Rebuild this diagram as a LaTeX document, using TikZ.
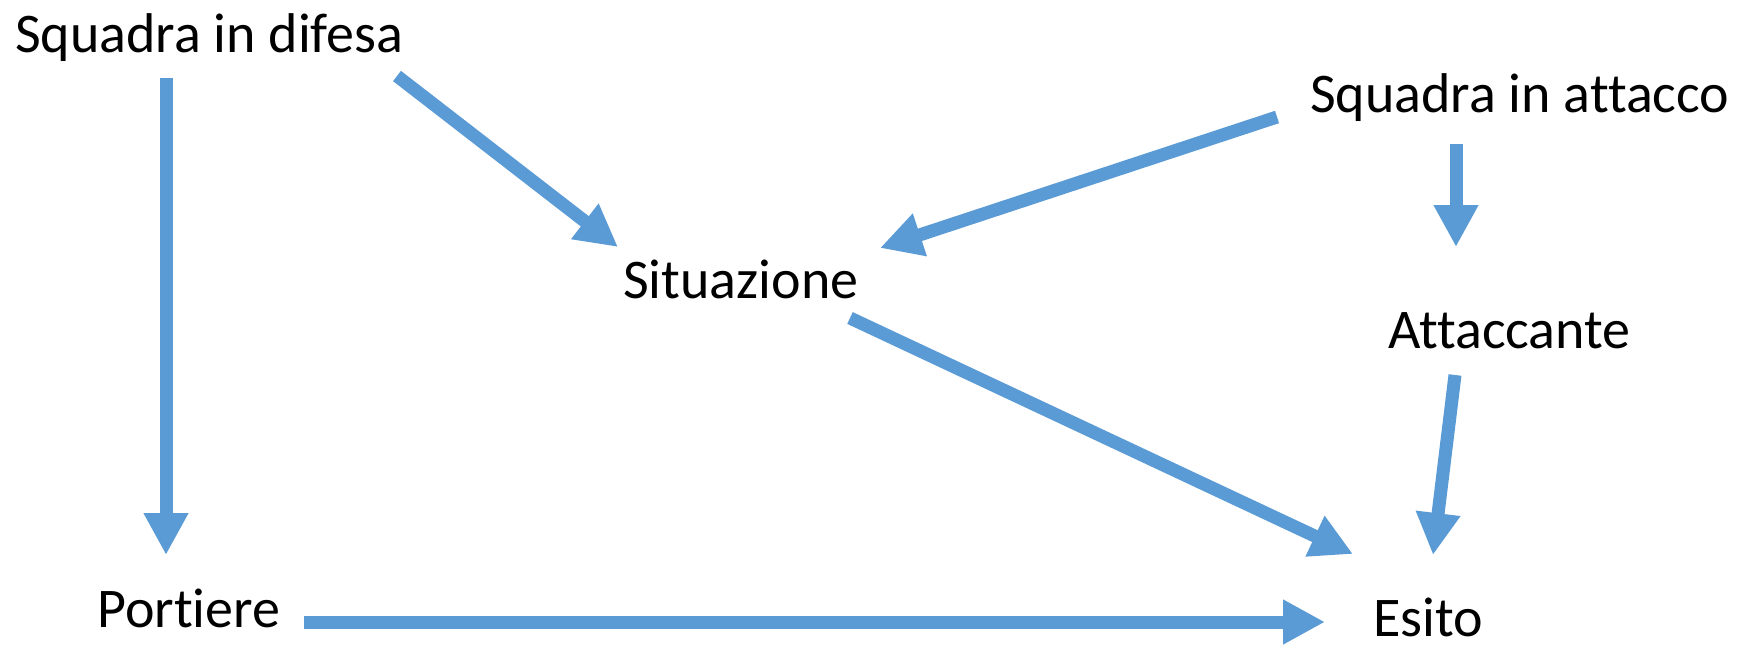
\documentclass[tikz,border=0pt]{standalone}
\usepackage{fontspec}
\setmainfont{Carlito}[Ligatures={NoCommon}]
\usetikzlibrary{arrows.meta}
\definecolor{arr}{HTML}{5B9BD5}
\begin{document}
\begin{tikzpicture}[x=1pt,y=-1pt,
  lbl/.style={anchor=base west,inner sep=0pt,font=\fontsize{56}{60}\selectfont},
  conn/.style={draw=arr,line width=13pt,-{Triangle[length=42pt,width=42pt]}}]
\useasboundingbox (0,0) rectangle (1746,648);
\node[lbl] (sd) at (15,52) {Squadra in difesa};
\node[lbl] (sa) at (1310,112) {Squadra in attacco};
\node[lbl] (si) at (623,298) {Situazione};
\node[lbl] (at) at (1388,348) {Attaccante};
\node[lbl] (po) at (97,627) {Portiere};
\node[lbl] (es) at (1373,636) {Esito};
\coordinate (a1s) at (166,78);   \coordinate (a1e) at (166,555);
\coordinate (a2s) at (397,76);   \coordinate (a2e) at (618,247);
\coordinate (a3s) at (1277,117); \coordinate (a3e) at (880,248);
\coordinate (a4s) at (1456,144); \coordinate (a4e) at (1456,247);
\coordinate (a5s) at (850,318);  \coordinate (a5e) at (1353,554);
\coordinate (a6s) at (1455,375); \coordinate (a6e) at (1433,555);
\coordinate (a7s) at (304,622);  \coordinate (a7e) at (1325,622);
\draw[conn] (a1s) -- (a1e);
\draw[conn] (a2s) -- (a2e);
\draw[conn] (a3s) -- (a3e);
\draw[conn] (a4s) -- (a4e);
\draw[conn] (a5s) -- (a5e);
\draw[conn] (a6s) -- (a6e);
\draw[conn] (a7s) -- (a7e);
\end{tikzpicture}
\end{document}
